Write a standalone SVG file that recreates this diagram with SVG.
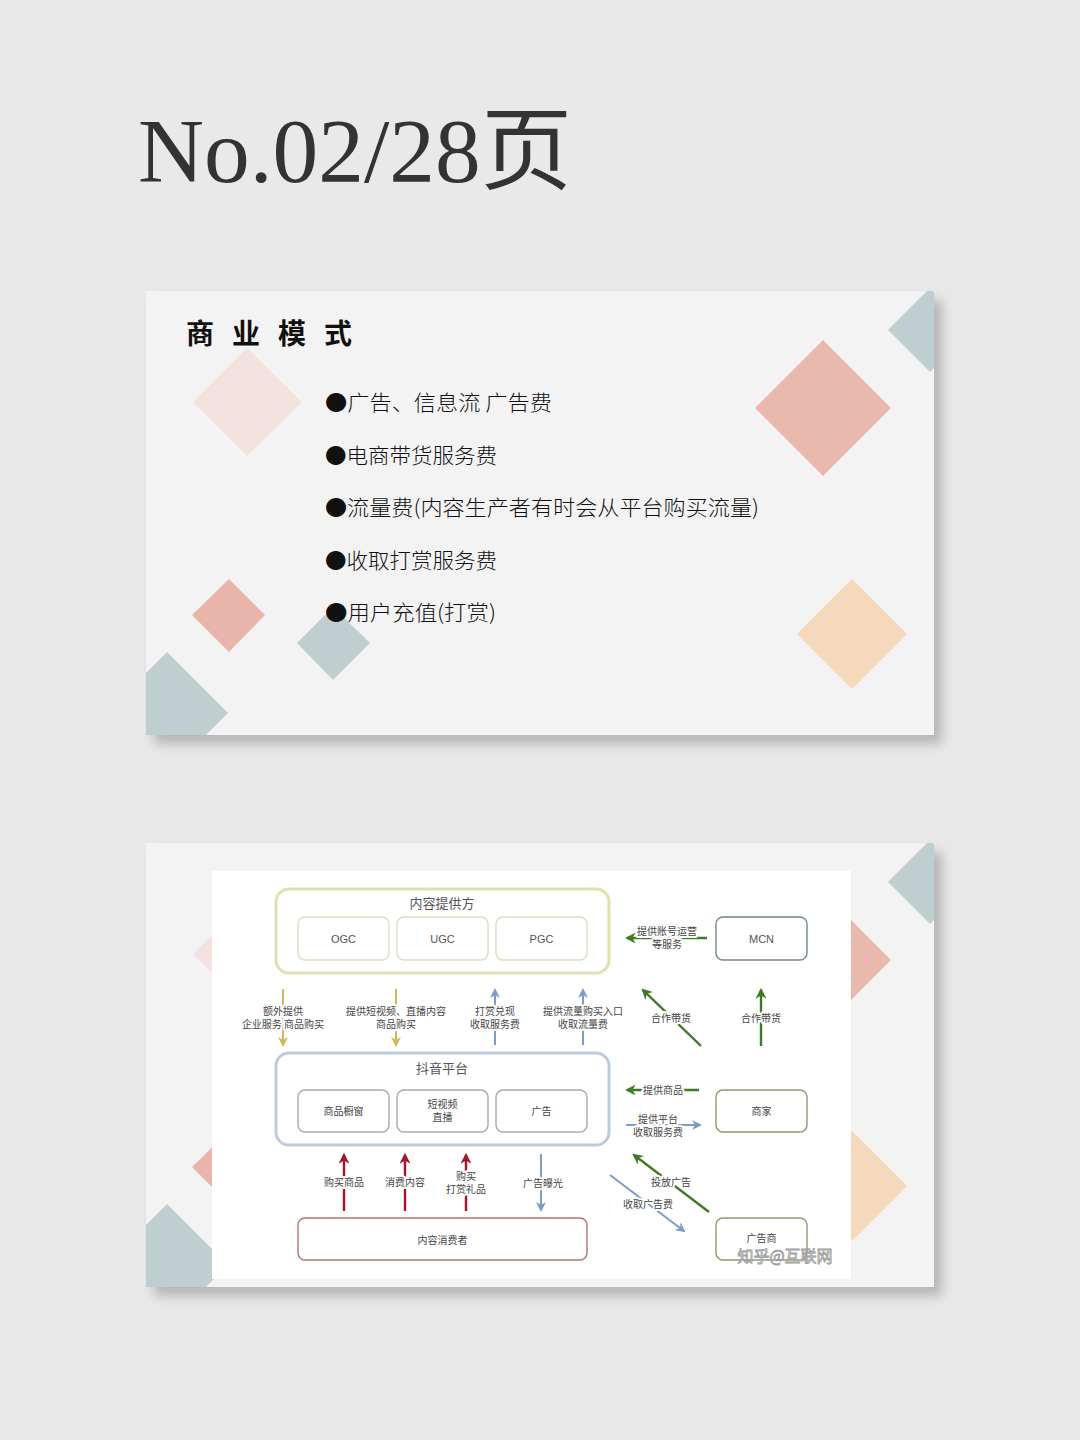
<svg xmlns="http://www.w3.org/2000/svg" width="1080" height="1440" viewBox="0 0 1080 1440">
<defs>
<style>
.cn{font-family:"Noto Sans CJK SC","Noto Sans",sans-serif}
.lbl{font-family:"Noto Sans CJK SC","Noto Sans",sans-serif;font-size:10px;fill:#444;text-anchor:middle;paint-order:stroke;stroke:#fff;stroke-width:4px;stroke-linejoin:round}
.bul{font-family:"Noto Sans CJK SC",sans-serif;font-size:21px;fill:#111;font-weight:300}
.box{fill:#fff;stroke-width:1.4}
.in{font-family:"Liberation Sans","Noto Sans CJK SC",sans-serif;font-size:11px;fill:#555;text-anchor:middle}
.gold{stroke:#d6b45a;stroke-width:2;fill:none}
.blue{stroke:#7b9cc9;stroke-width:2;fill:none}
.green{stroke:#3f7a26;stroke-width:2.4;fill:none}
.red{stroke:#a3162a;stroke-width:2.4;fill:none}
</style>
<filter id="sh" x="-5%" y="-5%" width="115%" height="120%">
<feDropShadow dx="8" dy="9" stdDeviation="6" flood-color="#888" flood-opacity="0.55"/>
</filter>
<clipPath id="c1"><rect x="146" y="291" width="788" height="444"/></clipPath>
<clipPath id="c2"><rect x="146" y="843" width="788" height="444"/></clipPath>
<g id="deco">
<polygon points="888,330 930,288 972,330 930,372" fill="#bfcfcf"/>
<polygon points="755,408 823,340 891,408 823,476" fill="#e9b9ae"/>
<polygon points="193,402 247,348 302,402 247,456" fill="#f3e2e0"/>
<polygon points="192,615 229,579 265,615 229,652" fill="#e9b5aa"/>
<polygon points="297,643 333,607 370,643 333,680" fill="#bfcfcf"/>
<polygon points="106,713 167,652 228,713 167,774" fill="#bfcfcf"/>
<polygon points="797,634 852,579 907,634 852,689" fill="#f6d9bd"/>
</g>
<marker id="mGold" viewBox="0 0 10 10" refX="8" refY="5" markerWidth="5" markerHeight="5" orient="auto"><path d="M0,0 L10,5 L0,10 L3,5 z" fill="#d6b45a"/></marker>
<marker id="mBlue" viewBox="0 0 10 10" refX="8" refY="5" markerWidth="5" markerHeight="5" orient="auto"><path d="M0,0 L10,5 L0,10 L3,5 z" fill="#7b9cc9"/></marker>
<marker id="mGreen" viewBox="0 0 10 10" refX="8" refY="5" markerWidth="4.5" markerHeight="4.5" orient="auto"><path d="M0,0 L10,5 L0,10 L3,5 z" fill="#3f7a26"/></marker>
<marker id="mRed" viewBox="0 0 10 10" refX="8" refY="5" markerWidth="4.5" markerHeight="4.5" orient="auto"><path d="M0,0 L10,5 L0,10 L3,5 z" fill="#a3162a"/></marker>
</defs>

<rect width="1080" height="1440" fill="#e9e9e9"/>
<text x="138" y="182" font-family="Liberation Serif,'Noto Sans CJK SC',serif" font-size="90" fill="#333" textLength="434" lengthAdjust="spacingAndGlyphs">No.02/28页</text>

<g id="card1">
<rect x="146" y="291" width="788" height="444" fill="#f4f3f4" filter="url(#sh)"/>
<g clip-path="url(#c1)"><use href="#deco"/></g>
<text x="186" y="344" class="cn" font-size="28" font-weight="700" fill="#111" letter-spacing="18">商业模式</text>
<text x="325" y="410" class="bul" textLength="227" lengthAdjust="spacingAndGlyphs">●广告、信息流  广告费</text>
<text x="325" y="463" class="bul" textLength="172" lengthAdjust="spacingAndGlyphs">●电商带货服务费</text>
<text x="325" y="515" class="bul" textLength="434" lengthAdjust="spacingAndGlyphs">●流量费(内容生产者有时会从平台购买流量)</text>
<text x="325" y="568" class="bul" textLength="172" lengthAdjust="spacingAndGlyphs">●收取打赏服务费</text>
<text x="325" y="620" class="bul" textLength="171" lengthAdjust="spacingAndGlyphs">●用户充值(打赏)</text>
</g>

<g id="card2">
<rect x="146" y="843" width="788" height="444" fill="#f4f3f4" filter="url(#sh)"/>
<g clip-path="url(#c2)"><use href="#deco" transform="translate(0,552)"/></g>
<rect x="212" y="871" width="639" height="408" fill="#fff"/>
</g>

<g id="provider">
<rect x="276" y="889" width="333" height="84" rx="13" fill="#fff" stroke="#e2dfb2" stroke-width="3"/>
<text x="442" y="908" class="cn" font-size="13" fill="#555" text-anchor="middle">内容提供方</text>
</g>
<g id="ogc"><rect x="298" y="917" width="91" height="43" rx="7" class="box" stroke="#dcdcc0"/><text x="343.5" y="943" class="in">OGC</text></g>
<g id="ugc"><rect x="397" y="917" width="91" height="43" rx="7" class="box" stroke="#dcdcc0"/><text x="442.5" y="943" class="in">UGC</text></g>
<g id="pgc"><rect x="496" y="917" width="91" height="43" rx="7" class="box" stroke="#dcdcc0"/><text x="541.5" y="943" class="in">PGC</text></g>
<g id="mcn"><rect x="716" y="917" width="91" height="43" rx="7" class="box" stroke="#6f8c7e"/><text x="761.5" y="943" class="in">MCN</text></g>

<g id="platform">
<rect x="276" y="1053" width="333" height="92" rx="13" fill="#fff" stroke="#bccbdd" stroke-width="3"/>
<text x="442" y="1073" class="cn" font-size="13" fill="#555" text-anchor="middle">抖音平台</text>
</g>
<g id="shop"><rect x="298" y="1090" width="91" height="42" rx="7" class="box" stroke="#aaa"/><text x="343.5" y="1115" class="cn" font-size="10" fill="#444" text-anchor="middle">商品橱窗</text></g>
<g id="video"><rect x="397" y="1090" width="91" height="42" rx="7" class="box" stroke="#aaa"/><text x="442.5" y="1108" class="cn" font-size="10" fill="#444" text-anchor="middle">短视频</text><text x="442.5" y="1121" class="cn" font-size="10" fill="#444" text-anchor="middle">直播</text></g>
<g id="ad"><rect x="496" y="1090" width="91" height="42" rx="7" class="box" stroke="#aaa"/><text x="541.5" y="1115" class="cn" font-size="10" fill="#444" text-anchor="middle">广告</text></g>
<g id="merchant"><rect x="716" y="1090" width="91" height="42" rx="7" class="box" stroke="#8c9a70"/><text x="761.5" y="1115" class="cn" font-size="10" fill="#444" text-anchor="middle">商家</text></g>
<g id="consumer"><rect x="298" y="1218" width="289" height="42" rx="7" class="box" stroke="#b47474"/><text x="442.5" y="1244" class="cn" font-size="10" fill="#444" text-anchor="middle">内容消费者</text></g>
<g id="advertiser"><rect x="716" y="1218" width="91" height="42" rx="7" class="box" stroke="#8c9a70"/><text x="761.5" y="1242" class="cn" font-size="10" fill="#444" text-anchor="middle">广告商</text></g>

<g id="connectors">
<line x1="283" y1="989" x2="283" y2="1045" class="gold" marker-end="url(#mGold)"/>
<line x1="396" y1="989" x2="396" y2="1045" class="gold" marker-end="url(#mGold)"/>
<line x1="495" y1="1045" x2="495" y2="990" class="blue" marker-end="url(#mBlue)"/>
<line x1="583" y1="1045" x2="583" y2="990" class="blue" marker-end="url(#mBlue)"/>
<line x1="701" y1="1046" x2="643" y2="990" class="green" marker-end="url(#mGreen)"/>
<line x1="761" y1="1046" x2="761" y2="990" class="green" marker-end="url(#mGreen)"/>
<line x1="707" y1="938" x2="627" y2="938" class="green" marker-end="url(#mGreen)"/>
<line x1="699" y1="1090" x2="627" y2="1090" class="green" marker-end="url(#mGreen)"/>
<line x1="626" y1="1125" x2="700" y2="1125" class="blue" marker-end="url(#mBlue)"/>
<line x1="344" y1="1211" x2="344" y2="1155" class="red" marker-end="url(#mRed)"/>
<line x1="405" y1="1211" x2="405" y2="1155" class="red" marker-end="url(#mRed)"/>
<line x1="466" y1="1211" x2="466" y2="1155" class="red" marker-end="url(#mRed)"/>
<line x1="541" y1="1154" x2="541" y2="1210" class="blue" marker-end="url(#mBlue)"/>
<line x1="709" y1="1212" x2="634" y2="1155" class="green" marker-end="url(#mGreen)"/>
<line x1="610" y1="1175" x2="684" y2="1231" class="blue" marker-end="url(#mBlue)"/>

<text x="283" y="1015" class="lbl">额外提供</text>
<text x="283" y="1028" class="lbl">企业服务 商品购买</text>
<text x="396" y="1015" class="lbl">提供短视频、直播内容</text>
<text x="396" y="1028" class="lbl">商品购买</text>
<text x="495" y="1015" class="lbl">打赏兑现</text>
<text x="495" y="1028" class="lbl">收取服务费</text>
<text x="583" y="1015" class="lbl">提供流量购买入口</text>
<text x="583" y="1028" class="lbl">收取流量费</text>
<text x="671" y="1022" class="lbl">合作带货</text>
<text x="761" y="1022" class="lbl">合作带货</text>
<text x="667" y="935" class="lbl">提供账号运营</text>
<text x="667" y="948" class="lbl">等服务</text>
<text x="663" y="1094" class="lbl">提供商品</text>
<text x="658" y="1123" class="lbl">提供平台</text>
<text x="658" y="1136" class="lbl">收取服务费</text>
<text x="344" y="1186" class="lbl">购买商品</text>
<text x="405" y="1186" class="lbl">消费内容</text>
<text x="466" y="1180" class="lbl">购买</text>
<text x="466" y="1193" class="lbl">打赏礼品</text>
<text x="543" y="1187" class="lbl">广告曝光</text>
<text x="671" y="1186" class="lbl">投放广告</text>
<text x="648" y="1208" class="lbl">收取广告费</text>
</g>
<text x="785" y="1262" class="cn" font-size="16" fill="#fff" fill-opacity="0.85" stroke="#999" stroke-width="0.8" text-anchor="middle">知乎@互联网</text>
</svg>
